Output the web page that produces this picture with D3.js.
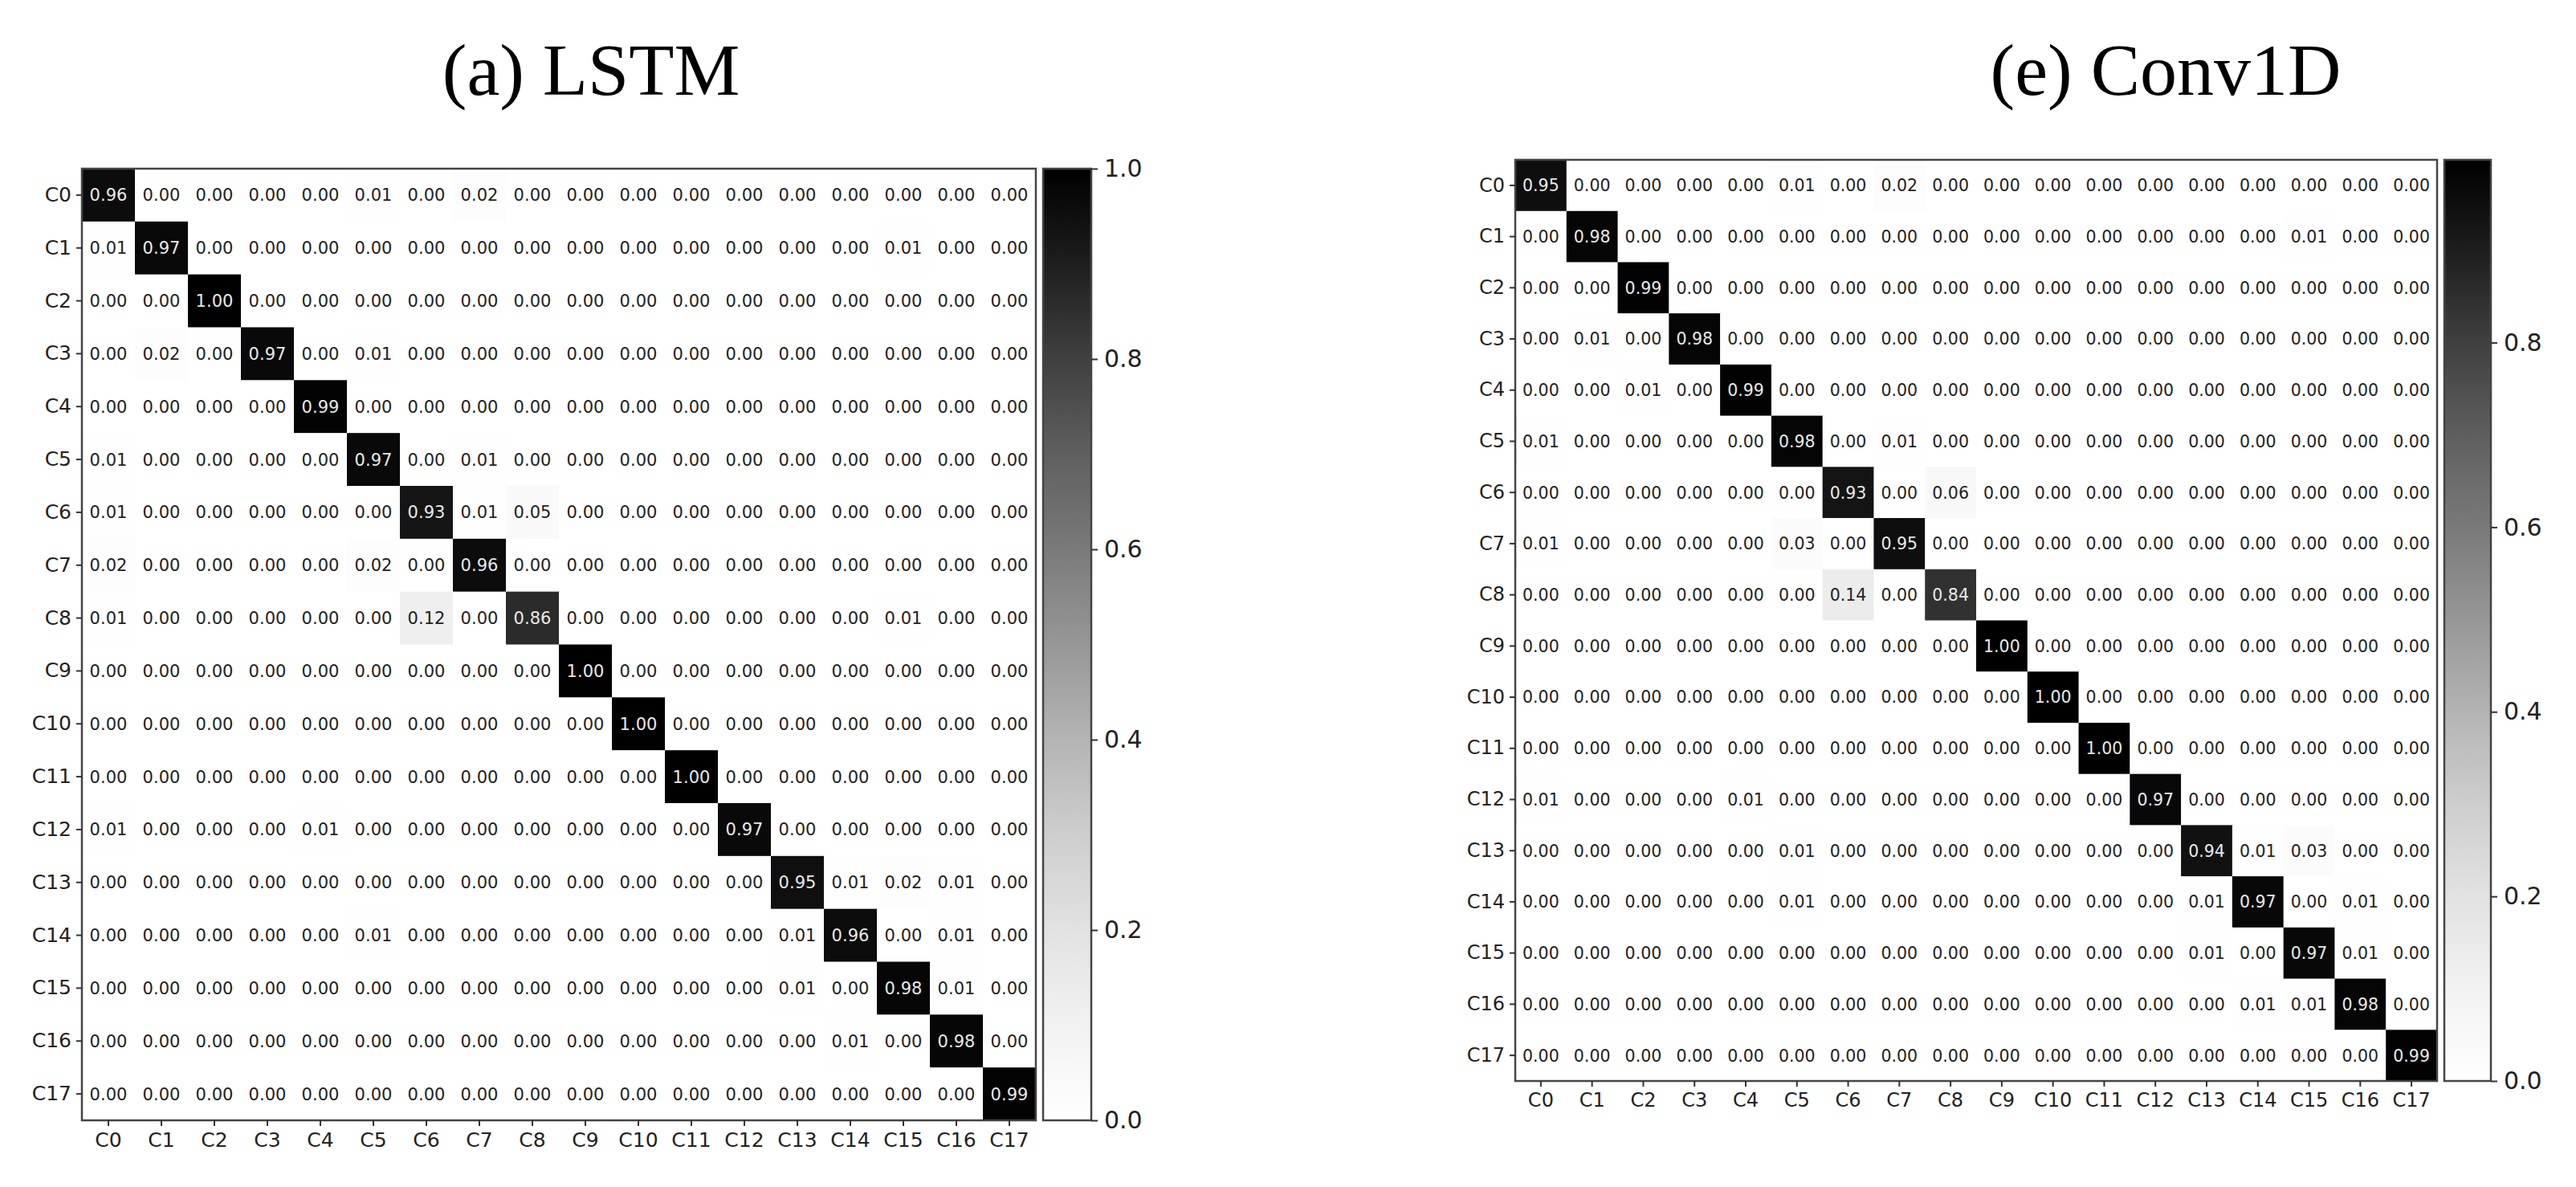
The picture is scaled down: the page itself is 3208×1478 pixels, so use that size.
<!DOCTYPE html>
<html>
<head>
<meta charset="utf-8">
<script src="https://cdn.jsdelivr.net/npm/d3@7"></script>
<style>
  body { margin: 0; background: #fff; }
</style>
</head>
<body>
<svg id="chart" width="3208" height="1478"></svg>
<script>
const classes = d3.range(18).map(i => "C" + i);

// diagonal values per class
const lstmDiag = [0.96, 0.97, 1.00, 0.97, 0.99, 0.97, 0.93, 0.96, 0.86, 1.00, 1.00, 1.00, 0.97, 0.95, 0.96, 0.98, 0.98, 0.99];
// off-diagonal entries [row, col, value]
const lstmOff = [
  [0, 5, 0.01], [0, 7, 0.02], [1, 0, 0.01], [1, 15, 0.01], [3, 1, 0.02], [3, 5, 0.01],
  [5, 0, 0.01], [5, 7, 0.01], [6, 0, 0.01], [6, 7, 0.01], [6, 8, 0.05],
  [7, 0, 0.02], [7, 5, 0.02], [8, 0, 0.01], [8, 6, 0.12], [8, 15, 0.01],
  [12, 0, 0.01], [12, 4, 0.01], [13, 14, 0.01], [13, 15, 0.02], [13, 16, 0.01],
  [14, 5, 0.01], [14, 13, 0.01], [14, 16, 0.01], [15, 13, 0.01], [15, 16, 0.01], [16, 14, 0.01]
];

const convDiag = [0.95, 0.98, 0.99, 0.98, 0.99, 0.98, 0.93, 0.95, 0.84, 1.00, 1.00, 1.00, 0.97, 0.94, 0.97, 0.97, 0.98, 0.99];
const convOff = [
  [0, 5, 0.01], [0, 7, 0.02], [1, 15, 0.01], [3, 1, 0.01], [4, 2, 0.01],
  [5, 0, 0.01], [5, 7, 0.01], [6, 8, 0.06], [7, 0, 0.01], [7, 5, 0.03], [8, 6, 0.14],
  [12, 0, 0.01], [12, 4, 0.01], [13, 5, 0.01], [13, 14, 0.01], [13, 15, 0.03],
  [14, 5, 0.01], [14, 13, 0.01], [14, 16, 0.01], [15, 13, 0.01], [15, 16, 0.01],
  [16, 14, 0.01], [16, 15, 0.01]
];

const lstmTicks = [0, 0.2, 0.4, 0.6, 0.8, 1.0];
const convTicks = [0, 0.2, 0.4, 0.6, 0.8];

function buildMatrix(diag, off) {
  const m = diag.map((d, i) => classes.map((_, j) => i === j ? d : 0));
  off.forEach(([r, c, v]) => { m[r][c] = v; });
  return m;
}

const svg = d3.select("#chart");

function drawPanel(opt) {
  const matrix = buildMatrix(opt.diag, opt.off);
  const g = svg.append("g");

  g.append("text")
    .attr("x", opt.titleX).attr("y", 118)
    .attr("text-anchor", "middle")
    .attr("font-family", "Liberation Serif, serif")
    .attr("font-size", 92)
    .text(opt.title);

  const x = d3.scaleBand().domain(classes).range([opt.left, opt.right]);
  const y = d3.scaleBand().domain(classes).range([opt.top, opt.bottom]);
  const color = v => d3.interpolateGreys(v / opt.vmax);

  const cells = [];
  matrix.forEach((row, i) => row.forEach((v, j) => cells.push({ i, j, v })));

  g.selectAll("rect.cell").data(cells).join("rect")
    .attr("class", "cell")
    .attr("x", d => x(classes[d.j])).attr("y", d => y(classes[d.i]))
    .attr("width", x.bandwidth() + 0.5).attr("height", y.bandwidth() + 0.5)
    .attr("fill", d => color(d.v));

  g.selectAll("text.val").data(cells).join("text")
    .attr("class", "val")
    .attr("x", d => x(classes[d.j]) + x.bandwidth() / 2)
    .attr("y", d => y(classes[d.i]) + y.bandwidth() / 2)
    .attr("dy", "0.36em")
    .attr("text-anchor", "middle")
    .attr("font-family", "DejaVu Sans, sans-serif")
    .attr("font-size", opt.cellFont)
    .attr("fill", d => d.v > opt.vmax / 2 ? "#e8e8e8" : "#222")
    .text(d => d.v.toFixed(2));

  g.append("rect")
    .attr("x", opt.left).attr("y", opt.top)
    .attr("width", opt.right - opt.left).attr("height", opt.bottom - opt.top)
    .attr("fill", "none").attr("stroke", "#444").attr("stroke-width", 2.5);

  const yAxis = g.append("g")
    .attr("transform", `translate(${opt.left},0)`)
    .call(d3.axisLeft(y).tickSize(7).tickPadding(6));
  const xAxis = g.append("g")
    .attr("transform", `translate(0,${opt.bottom})`)
    .call(d3.axisBottom(x).tickSize(7).tickPadding(8));
  [xAxis, yAxis].forEach(a => {
    a.select(".domain").remove();
    a.selectAll("line").attr("stroke", "#333").attr("stroke-width", 2);
    a.selectAll("text").attr("font-family", "DejaVu Sans, sans-serif")
      .attr("font-size", opt.axisFont).attr("fill", "#222");
  });

  // colorbar
  const gradId = "grad" + opt.id;
  const grad = svg.append("defs").append("linearGradient")
    .attr("id", gradId).attr("x1", 0).attr("y1", 1).attr("x2", 0).attr("y2", 0);
  d3.range(0, 1.01, 0.1).forEach(t => {
    grad.append("stop").attr("offset", t).attr("stop-color", d3.interpolateGreys(t));
  });
  const cb = d3.scaleLinear().domain([0, opt.vmax]).range([opt.bottom, opt.top]);
  g.append("rect")
    .attr("x", opt.cbLeft).attr("y", opt.top)
    .attr("width", opt.cbWidth).attr("height", opt.bottom - opt.top)
    .attr("fill", `url(#${gradId})`).attr("stroke", "#444").attr("stroke-width", 2.5);
  const cbAxis = g.append("g")
    .attr("transform", `translate(${opt.cbLeft + opt.cbWidth},0)`)
    .call(d3.axisRight(cb).tickValues(opt.ticks).tickFormat(d3.format(".1f")).tickSize(8).tickPadding(8));
  cbAxis.select(".domain").remove();
  cbAxis.selectAll("line").attr("stroke", "#333").attr("stroke-width", 2);
  cbAxis.selectAll("text").attr("font-family", "DejaVu Sans, sans-serif")
    .attr("font-size", 30).attr("fill", "#222");
}

drawPanel({
  id: "a", title: "(a) LSTM", titleX: 736, diag: lstmDiag, off: lstmOff,
  left: 102, right: 1290, top: 210, bottom: 1395,
  cbLeft: 1299, cbWidth: 60, vmax: 1.0, ticks: lstmTicks,
  cellFont: 21, axisFont: 25
});

drawPanel({
  id: "e", title: "(e) Conv1D", titleX: 2697, diag: convDiag, off: convOff,
  left: 1887, right: 3035, top: 199, bottom: 1346,
  cbLeft: 3044, cbWidth: 58, vmax: 0.998, ticks: convTicks,
  cellFont: 20.5, axisFont: 24
});
</script>
</body>
</html>
